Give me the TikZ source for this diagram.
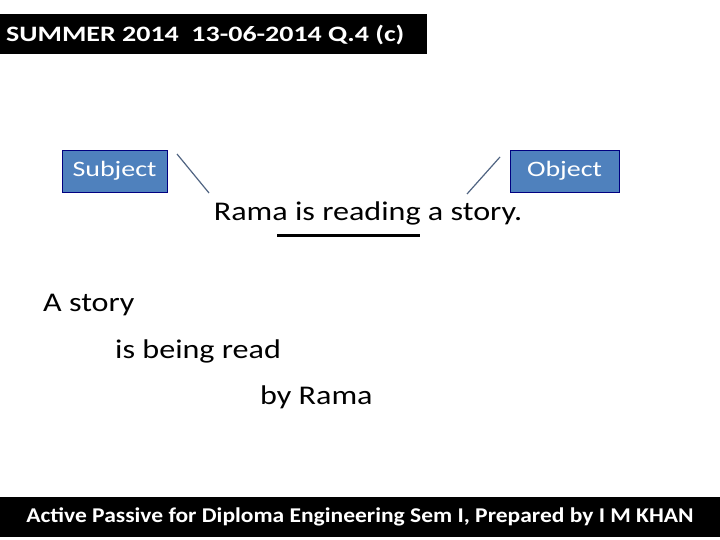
\documentclass[tikz,border=0pt]{standalone}
\usepackage{fontspec}
\setmainfont{Carlito}
\newfontfamily\wideA[FakeStretch=1.19]{Carlito}
\newfontfamily\wideB[FakeStretch=1.27]{Carlito}
\newfontfamily\wideC[FakeStretch=1.12]{Carlito}
\begin{document}
\begin{tikzpicture}[x=1pt,y=-1pt,
  lbl/.style={draw=blue!50!black,fill={rgb,255:red,79;green,129;blue,189},text=white,font=\wideB\fontsize{22}{24}\selectfont,minimum height=42pt,inner sep=0pt},
  body/.style={font=\wideA\fontsize{27}{29}\selectfont,anchor=west,inner sep=0pt},
  conn/.style={draw={rgb,255:red,80;green,100;blue,130},line width=1.2pt}]
\useasboundingbox (0,0) rectangle (720,540);
\fill[white] (0,0) rectangle (720,540);
\node[fill=black,minimum width=427pt,minimum height=40pt,inner sep=0pt] (title) at (213.5,34) {};
\node[text=white,font=\wideB\bfseries\fontsize{22}{24}\selectfont,anchor=west,inner sep=0pt] (tt) at (6,35) {SUMMER 2014\ \ 13-06-2014 Q.4 (c)};
\node[lbl,minimum width=105pt] (subj) at (114.5,171) {Subject};
\node[lbl,minimum width=109pt] (obj) at (564.5,171) {Object};
\node[font=\wideA\fontsize{27}{29}\selectfont,inner sep=0pt] (sent) at (368,213) {Rama is reading a story.};
\coordinate (s1) at (177,154); \coordinate (s2) at (209,193);
\coordinate (o1) at (500,157); \coordinate (o2) at (467,194);
\draw[conn] (s1) -- (s2);
\draw[conn] (o1) -- (o2);
\coordinate (u1) at (277,235); \coordinate (u2) at (420,235);
\draw[line width=3pt] (u1) -- (u2);
\node[body] (p1) at (43,305) {A story};
\node[body] (p2) at (115,351) {is being read};
\node[body] (p3) at (260,397) {by Rama};
\node[fill=black,text=white,font=\wideC\bfseries\fontsize{21}{23}\selectfont,minimum width=720pt,minimum height=40pt,inner sep=0pt] (foot) at (360,517) {Active Passive for Diploma Engineering Sem I, Prepared by I M KHAN};
\end{tikzpicture}
\end{document}
